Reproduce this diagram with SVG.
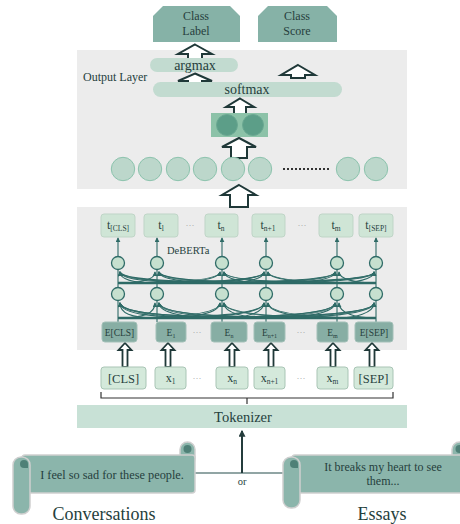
<svg xmlns="http://www.w3.org/2000/svg" width="460" height="524" viewBox="0 0 460 524" font-family="'Liberation Serif', 'DejaVu Serif', serif">
<defs>
<style>
text{font-family:'Liberation Serif','DejaVu Serif',serif;fill:#263f3d}
.bg{fill:#ececec}
.hex{fill:#86b2a7}
.pill{fill:#c2dbd0}
.oc{fill:#bcd7cb;stroke:#8cc3ad;stroke-width:1}
.big{fill:#fff;stroke:#1f3838;stroke-width:2;stroke-linejoin:miter}
.small{fill:#fff;stroke:#1f3838;stroke-width:1.8}
.tb{fill:#cfe5d6;stroke:#bfd5c7;stroke-width:1}
.eb{fill:#87aea4;stroke:#a3c0b8;stroke-width:1}
.xb{fill:#d4e9db;stroke:#a9c5b5;stroke-width:1}
.tc{fill:#c6e0cf;stroke:#2f6b67;stroke-width:1.3}
.cn{fill:none;stroke:#2f6b67;stroke-width:1.1}
.dots{font-size:9px;fill:#a0a0a0}
.scroll{fill:#8bb5ab;stroke:#cfcfcf;stroke-width:1.5}
.spot{fill:#4f8077}
</style>
<marker id="ah" viewBox="0 0 6 6" refX="5" refY="3" markerWidth="5" markerHeight="5" orient="auto" markerUnits="userSpaceOnUse">
<path d="M0,0 L6,3 L0,6 z" fill="#2f6b67"/>
</marker>
<marker id="ah2" viewBox="0 0 6 6" refX="5" refY="3" markerWidth="7" markerHeight="7" orient="auto" markerUnits="userSpaceOnUse">
<path d="M0,0 L6,3 L0,6 z" fill="#243c3c"/>
</marker>
</defs>

<rect class="bg" x="77" y="50" width="330" height="139"/>
<rect class="bg" x="77" y="207" width="330" height="143"/>

<g id="class-label">
<polygon class="hex" points="163,6 230,6 240,16 240,42 153,42 153,16"/>
<text x="196" y="20" font-size="12" text-anchor="middle">Class</text>
<text x="196" y="34.5" font-size="12" text-anchor="middle">Label</text>
</g>
<g id="class-score">
<polygon class="hex" points="268,6 327,6 337,16 337,42 258,42 258,16"/>
<text x="297" y="20" font-size="12" text-anchor="middle">Class</text>
<text x="297" y="34.5" font-size="12" text-anchor="middle">Score</text>
</g>

<g id="block-arrows">
<polygon class="big" points="195,44.5 212,54 202,54 202,60 188,60 188,54 178,54"/>
<polygon class="big" points="298,65 315,75 305,75 305,78 291,78 291,75 281,75"/>
<polygon class="big" points="195,73.5 212,81 202,81 202,85 188,85 188,81 178,81"/>
<polygon class="big" points="240,98.5 254,107 246,107 246,114 234,114 234,107 226,107"/>
<polygon class="big" points="239,138 256,147 247,147 247,158 231,158 231,147 222,147"/>
<polygon class="big" points="239,185 256,195 248,195 248,207 230,207 230,195 222,195"/>
</g>

<text x="83" y="81" font-size="12">Output Layer</text>

<g id="argmax">
<rect class="pill" x="150" y="58" width="88" height="14" rx="7"/>
<text x="195" y="70" font-size="14" text-anchor="middle">argmax</text>
</g>
<g id="softmax">
<rect class="pill" x="153" y="82" width="189" height="15" rx="7.5"/>
<text x="247" y="94" font-size="14" text-anchor="middle">softmax</text>
</g>
<g id="pooled">
<rect x="211" y="113" width="57" height="24" fill="#8cc2a8"/>
<circle cx="227" cy="125" r="10.5" fill="#5c9e88" stroke="#6aa892"/>
<circle cx="253" cy="125" r="10.5" fill="#5c9e88" stroke="#6aa892"/>
</g>
<g id="hidden-row">
<circle class="oc" cx="123" cy="169" r="11.7"/>
<circle class="oc" cx="150" cy="169" r="11.7"/>
<circle class="oc" cx="178" cy="169" r="11.7"/>
<circle class="oc" cx="205" cy="169" r="11.7"/>
<circle class="oc" cx="233" cy="169" r="11.7"/>
<circle class="oc" cx="260" cy="169" r="11.7"/>
<line x1="283" y1="169" x2="331" y2="169" stroke="#333" stroke-width="2" stroke-dasharray="2 2"/>
<circle class="oc" cx="348" cy="169" r="11.7"/>
<circle class="oc" cx="376" cy="169" r="11.7"/>
</g>

<g id="t-boxes">
<rect class="tb" x="101" y="214" width="34" height="23" rx="3"/>
<text x="118" y="229" text-anchor="middle" font-size="12">t<tspan font-size="7.5" dy="2">[CLS]</tspan></text>
<rect class="tb" x="144" y="214" width="34" height="23" rx="3"/>
<text x="161" y="229" text-anchor="middle" font-size="12">t<tspan font-size="7.5" dy="2">l</tspan></text>
<text class="dots" x="190" y="228" text-anchor="middle">···</text>
<rect class="tb" x="205" y="214" width="33" height="23" rx="3"/>
<text x="221" y="229" text-anchor="middle" font-size="12">t<tspan font-size="7.5" dy="2">n</tspan></text>
<rect class="tb" x="252" y="214" width="33" height="23" rx="3"/>
<text x="268" y="229" text-anchor="middle" font-size="12">t<tspan font-size="7.5" dy="2">n+1</tspan></text>
<text class="dots" x="302" y="228" text-anchor="middle">···</text>
<rect class="tb" x="319" y="214" width="34" height="23" rx="3"/>
<text x="336" y="229" text-anchor="middle" font-size="12">t<tspan font-size="7.5" dy="2">m</tspan></text>
<rect class="tb" x="359" y="214" width="34" height="23" rx="3"/>
<text x="376" y="229" text-anchor="middle" font-size="12">t<tspan font-size="7.5" dy="2">[SEP]</tspan></text>
</g>

<text x="167" y="254" font-size="10.5">DeBERTa</text>

<g id="connectors">
<line x1="118" y1="318" x2="376" y2="318" stroke="#2f6b67" stroke-width="2.5"/>
<line x1="118" y1="283" x2="376" y2="283" stroke="#2f6b67" stroke-width="2.5"/>
<path class="cn" d="M118 322V301 M157 322V301 M222 322V301 M266 322V301 M337 322V301 M376 322V301"/>
<path class="cn" d="M118 287.5V270 M157 287.5V270 M222 287.5V270 M266 287.5V270 M337 287.5V270 M376 287.5V270"/>
<g marker-end="url(#ah)">
<path class="cn" d="M118 256.5V238"/><path class="cn" d="M157 256.5V238"/><path class="cn" d="M222 256.5V238"/>
<path class="cn" d="M266 256.5V238"/><path class="cn" d="M337 256.5V238"/><path class="cn" d="M376 256.5V238"/>
</g>
<g marker-end="url(#ah)">
<path class="cn" d="M157 318C130 318 120 313 120 303"/><path class="cn" d="M222 318C150 318 121 314 120 303"/><path class="cn" d="M266 318C170 318 122 315 120 303"/><path class="cn" d="M337 318C190 318 122 316 120 303"/><path class="cn" d="M376 318C200 318 123 317 120 303"/>
<path class="cn" d="M118 318C145 318 155 313 155 303"/><path class="cn" d="M222 318C185 318 159 313 159 303"/><path class="cn" d="M266 318C200 318 160 314 159 303"/><path class="cn" d="M337 318C220 318 161 315 159 303"/><path class="cn" d="M376 318C230 318 162 316 159 303"/>
<path class="cn" d="M118 318C180 318 219 314 220 303"/><path class="cn" d="M157 318C195 318 219 313 220 303"/><path class="cn" d="M266 318C245 318 224 313 224 303"/><path class="cn" d="M337 318C270 318 225 314 224 303"/><path class="cn" d="M376 318C285 318 226 315 224 303"/>
<path class="cn" d="M118 318C200 318 263 315 264 303"/><path class="cn" d="M157 318C215 318 263 314 264 303"/><path class="cn" d="M222 318C245 318 264 313 264 303"/><path class="cn" d="M337 318C300 318 268 313 268 303"/><path class="cn" d="M376 318C315 318 269 314 268 303"/>
<path class="cn" d="M118 318C240 318 334 317 335 303"/><path class="cn" d="M157 318C255 318 334 316 335 303"/><path class="cn" d="M222 318C280 318 334 315 335 303"/><path class="cn" d="M266 318C305 318 335 313 335 303"/><path class="cn" d="M376 318C355 318 339 313 339 303"/>
<path class="cn" d="M118 318C260 318 373 317 374 303"/><path class="cn" d="M157 318C275 318 373 316 374 303"/><path class="cn" d="M222 318C300 318 373 315 374 303"/><path class="cn" d="M266 318C320 318 374 314 374 303"/><path class="cn" d="M337 318C355 318 374 313 374 303"/>
</g>
<g marker-end="url(#ah)">
<path class="cn" d="M157 283C130 283 120 279 120 272"/><path class="cn" d="M222 283C150 283 121 280 120 272"/><path class="cn" d="M266 283C170 283 122 281 120 272"/><path class="cn" d="M337 283C190 283 122 282 120 272"/><path class="cn" d="M376 283C200 283 123 282 120 272"/>
<path class="cn" d="M118 283C145 283 155 279 155 272"/><path class="cn" d="M222 283C185 283 159 279 159 272"/><path class="cn" d="M266 283C200 283 160 280 159 272"/><path class="cn" d="M337 283C220 283 161 281 159 272"/><path class="cn" d="M376 283C230 283 162 282 159 272"/>
<path class="cn" d="M118 283C180 283 219 280 220 272"/><path class="cn" d="M157 283C195 283 219 279 220 272"/><path class="cn" d="M266 283C245 283 224 279 224 272"/><path class="cn" d="M337 283C270 283 225 280 224 272"/><path class="cn" d="M376 283C285 283 226 281 224 272"/>
<path class="cn" d="M118 283C200 283 263 281 264 272"/><path class="cn" d="M157 283C215 283 263 280 264 272"/><path class="cn" d="M222 283C245 283 264 279 264 272"/><path class="cn" d="M337 283C300 283 268 279 268 272"/><path class="cn" d="M376 283C315 283 269 280 268 272"/>
<path class="cn" d="M118 283C240 283 334 282 335 272"/><path class="cn" d="M157 283C255 283 334 282 335 272"/><path class="cn" d="M222 283C280 283 334 281 335 272"/><path class="cn" d="M266 283C305 283 335 280 335 272"/><path class="cn" d="M376 283C355 283 339 279 339 272"/>
<path class="cn" d="M118 283C260 283 373 282 374 272"/><path class="cn" d="M157 283C275 283 373 282 374 272"/><path class="cn" d="M222 283C300 283 373 281 374 272"/><path class="cn" d="M266 283C320 283 374 280 374 272"/><path class="cn" d="M337 283C355 283 374 279 374 272"/>
</g>
<g id="in-arrows">
<polygon class="small" points="125,343 131.5,350 127.5,350 127.5,367 122.5,367 122.5,350 118.5,350"/>
<polygon class="small" points="168,343 174.5,350 170.5,350 170.5,367 165.5,367 165.5,350 161.5,350"/>
<polygon class="small" points="232,343 238.5,350 234.5,350 234.5,367 229.5,367 229.5,350 225.5,350"/>
<polygon class="small" points="271,343 277.5,350 273.5,350 273.5,367 268.5,367 268.5,350 264.5,350"/>
<polygon class="small" points="333,343 339.5,350 335.5,350 335.5,367 330.5,367 330.5,350 326.5,350"/>
<polygon class="small" points="372,343 378.5,350 374.5,350 374.5,367 369.5,367 369.5,350 365.5,350"/>
</g>
<path d="M101 392V398H393V392 M247 398V404" fill="none" stroke="#333" stroke-width="1.2"/>
<line x1="195" y1="473" x2="285" y2="473" stroke="#6d8786" stroke-width="1.5"/>
<line x1="242" y1="473" x2="242" y2="431" stroke="#243c3c" stroke-width="2" marker-end="url(#ah2)"/>
</g>

<g id="layer2-nodes">
<circle class="tc" cx="118" cy="263" r="6.5"/><circle class="tc" cx="157" cy="263" r="6.5"/><circle class="tc" cx="222" cy="263" r="6.5"/>
<circle class="tc" cx="266" cy="263" r="6.5"/><circle class="tc" cx="337" cy="263" r="6.5"/><circle class="tc" cx="376" cy="263" r="6.5"/>
</g>
<g id="layer1-nodes">
<circle class="tc" cx="118" cy="294" r="6.5"/><circle class="tc" cx="157" cy="294" r="6.5"/><circle class="tc" cx="222" cy="294" r="6.5"/>
<circle class="tc" cx="266" cy="294" r="6.5"/><circle class="tc" cx="337" cy="294" r="6.5"/><circle class="tc" cx="376" cy="294" r="6.5"/>
</g>

<g id="e-boxes">
<rect class="eb" x="102" y="322" width="35" height="20" rx="3"/>
<text x="119.5" y="335.5" text-anchor="middle" font-size="9.5">E[CLS]</text>
<rect class="eb" x="156" y="322" width="30" height="20" rx="3"/>
<text x="171" y="335.5" text-anchor="middle" font-size="9.5">E<tspan font-size="6" dy="2">1</tspan></text>
<text class="dots" x="197" y="335" text-anchor="middle">···</text>
<rect class="eb" x="211" y="322" width="36" height="20" rx="3"/>
<text x="229" y="335.5" text-anchor="middle" font-size="9.5">E<tspan font-size="6" dy="2">n</tspan></text>
<rect class="eb" x="254" y="322" width="31" height="20" rx="3"/>
<text x="269.5" y="335.5" text-anchor="middle" font-size="9.5">E<tspan font-size="6" dy="2">n+1</tspan></text>
<text class="dots" x="301" y="335" text-anchor="middle">···</text>
<rect class="eb" x="317" y="322" width="31" height="20" rx="3"/>
<text x="332.5" y="335.5" text-anchor="middle" font-size="9.5">E<tspan font-size="6" dy="2">m</tspan></text>
<rect class="eb" x="355" y="322" width="38" height="20" rx="3"/>
<text x="374" y="335.5" text-anchor="middle" font-size="9.5">E[SEP]</text>
</g>

<g id="x-boxes">
<rect class="xb" x="101" y="367" width="45" height="22" rx="3"/>
<text x="123.5" y="382.5" text-anchor="middle" font-size="12.5">[CLS]</text>
<rect class="xb" x="155" y="367" width="31" height="22" rx="3"/>
<text x="170.5" y="382" text-anchor="middle" font-size="12">x<tspan font-size="7.5" dy="2">1</tspan></text>
<text class="dots" x="197" y="381" text-anchor="middle">···</text>
<rect class="xb" x="216" y="367" width="32" height="22" rx="3"/>
<text x="232" y="382" text-anchor="middle" font-size="12">x<tspan font-size="7.5" dy="2">n</tspan></text>
<rect class="xb" x="254" y="367" width="31" height="22" rx="3"/>
<text x="269.5" y="382" text-anchor="middle" font-size="12">x<tspan font-size="7.5" dy="2">n+1</tspan></text>
<text class="dots" x="301" y="381" text-anchor="middle">···</text>
<rect class="xb" x="317" y="367" width="31" height="22" rx="3"/>
<text x="332.5" y="382" text-anchor="middle" font-size="12">x<tspan font-size="7.5" dy="2">m</tspan></text>
<rect class="xb" x="354" y="367" width="39" height="22" rx="3"/>
<text x="373.5" y="382.5" text-anchor="middle" font-size="12.5">[SEP]</text>
</g>

<g id="tokenizer">
<rect x="77" y="405" width="330" height="23" fill="#c8e1d6"/>
<text x="243" y="421.5" text-anchor="middle" font-size="14.5">Tokenizer</text>
</g>

<text x="242" y="485" text-anchor="middle" font-size="10.5">or</text>

<g id="conversations">
<rect class="scroll" x="180" y="442" width="15" height="24" rx="7.5"/>
<circle class="spot" cx="187.5" cy="449" r="4"/>
<rect class="scroll" x="22" y="455" width="173" height="38" rx="3"/>
<rect class="scroll" x="13" y="457" width="17" height="57" rx="8"/>
<path class="spot" d="M20 464a4 4 0 0 1 8 0v4h-4a4 4 0 0 1-4-4z"/>
<text x="112" y="479" text-anchor="middle" font-size="12.3">I feel so sad for these people.</text>
<text x="104" y="520" text-anchor="middle" font-size="18">Conversations</text>
</g>

<g id="essays">
<rect class="scroll" x="452" y="442" width="15" height="24" rx="7.5"/>
<circle class="spot" cx="459.5" cy="449" r="4"/>
<rect class="scroll" x="292" y="455" width="175" height="38" rx="3"/>
<rect class="scroll" x="283" y="457" width="17" height="51" rx="8"/>
<path class="spot" d="M290 464a4 4 0 0 1 8 0v4h-4a4 4 0 0 1-4-4z"/>
<text x="383" y="471" text-anchor="middle" font-size="12">It breaks my heart to see</text>
<text x="383" y="485" text-anchor="middle" font-size="12">them...</text>
<text x="382" y="520" text-anchor="middle" font-size="18">Essays</text>
</g>
</svg>
